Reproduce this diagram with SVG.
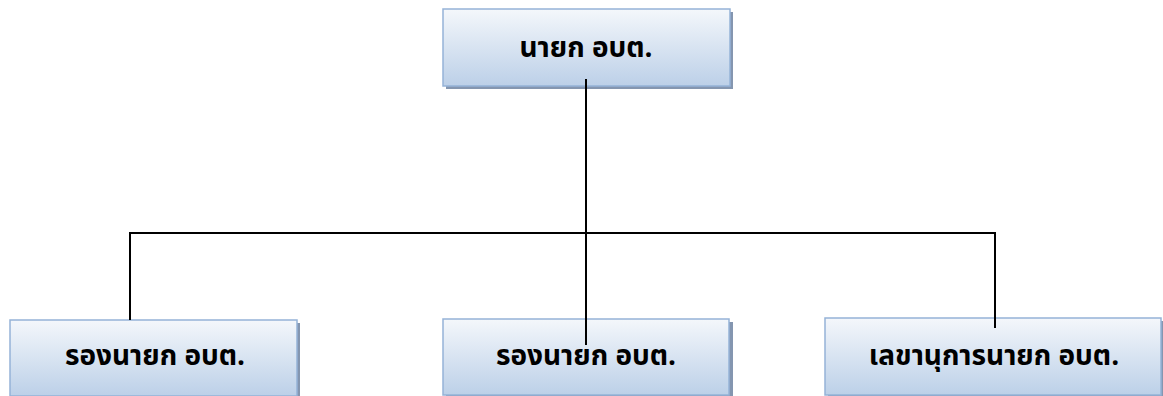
<svg xmlns="http://www.w3.org/2000/svg" width="1163" height="396" viewBox="0 0 1163 396">
<style>
.box{fill:url(#g);stroke:#95b3d7;stroke-width:1.5}
.sh{fill:#8496b0}
.t{font-family:"Noto Sans Thai","Noto Sans","DejaVu Sans",sans-serif;font-weight:bold;font-size:28px;fill:#000;text-anchor:middle}
.c{stroke:#000;stroke-width:2;fill:none}
</style>
<defs>
<linearGradient id="g" x1="0" y1="0" x2="0" y2="1">
<stop offset="0" stop-color="#f4f7fb"/>
<stop offset="1" stop-color="#bcd0e8"/>
</linearGradient>
</defs>
<g id="top">
<rect class="sh" x="446" y="12" width="287" height="77"/>
<rect class="box" x="443" y="9" width="287" height="77"/>
<text class="t" x="586" y="57">นายก อบต.</text>
</g>
<g id="left">
<rect class="sh" x="13" y="323" width="287" height="76"/>
<rect class="box" x="10" y="320" width="287" height="76"/>
<text class="t" x="155" y="365">รองนายก อบต.</text>
</g>
<g id="mid">
<rect class="sh" x="446" y="322" width="287" height="76"/>
<rect class="box" x="443" y="319" width="286" height="76"/>
<text class="t" x="586" y="365">รองนายก อบต.</text>
</g>
<g id="right">
<rect class="sh" x="828" y="321" width="340" height="76"/>
<rect class="box" x="825" y="318" width="336" height="77"/>
<text class="t" x="994" y="365">เลขานุการนายก อบต.</text>
</g>
<g id="connectors">
<path class="c" d="M586 79 V345"/>
<path class="c" d="M130 320 V233 H995 V328"/>
</g>
</svg>
